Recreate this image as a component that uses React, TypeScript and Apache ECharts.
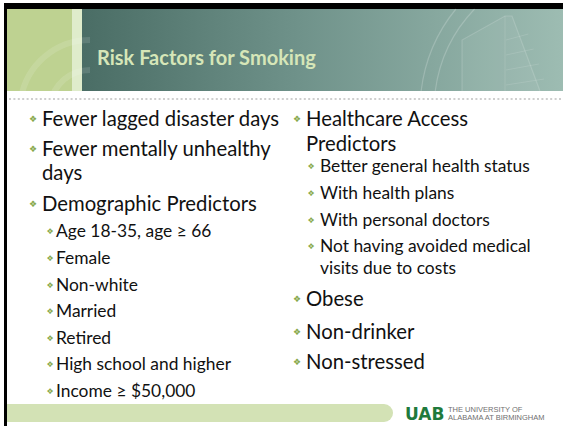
import React, { useEffect, useRef } from "react";
import * as echarts from "echarts";

const titleText = "Risk Factors for Smoking";
const leftLines = [
  "Fewer lagged disaster days",
  "Fewer mentally unhealthy",
  "days",
  "Demographic Predictors",
  "Age 18-35, age ≥ 66",
  "Female",
  "Non-white",
  "Married",
  "Retired",
  "High school and higher",
  "Income ≥ $50,000",
];
// 1 = main bullet, 0 = continuation of main, 2 = sub bullet, 3 = continuation of sub
const leftLevels = [1, 1, 0, 1, 2, 2, 2, 2, 2, 2, 2];
const rightLines = [
  "Healthcare Access",
  "Predictors",
  "Better general health status",
  "With health plans",
  "With personal doctors",
  "Not having avoided medical",
  "visits due to costs",
  "Obese",
  "Non-drinker",
  "Non-stressed",
];
const rightLevels = [1, 0, 2, 2, 2, 2, 3, 1, 1, 1];
const logoMark = "UAB";
const logoLines = ["THE UNIVERSITY OF", "ALABAMA AT BIRMINGHAM"];

// layout (row centres)
const leftRowY = [118, 148, 172, 203, 230, 257, 284, 310, 337, 363, 390];
const rightRowY = [118, 143, 165, 192, 219, 245, 267, 298, 331, 361];

const FONT = "Lato, 'Open Sans', sans-serif";
const BULLET_COLOR = "#86a84a";

function column(lines: string[], levels: number[], ys: number[], xs: any) {
  const els: any[] = [];
  lines.forEach((t, i) => {
    const lv = levels[i];
    const main = lv === 0 || lv === 1;
    const size = main ? 20.3 : 17.4;
    const tx = main ? xs.t1 : xs.t2;
    if (lv === 1 || lv === 2) {
      els.push({
        type: "text",
        x: lv === 1 ? xs.b1 : xs.b2,
        y: ys[i] + 1,
        style: {
          text: "❖",
          fill: BULLET_COLOR,
          font: `${lv === 1 ? 9 : 8}px 'DejaVu Sans'`,
          textAlign: "center",
          textVerticalAlign: "middle",
        },
      });
    }
    els.push({
      type: "text",
      x: tx,
      y: ys[i],
      style: {
        text: t,
        fill: "#111111",
        font: `${size}px ${FONT}`,
        textAlign: "left",
        textVerticalAlign: "middle",
      },
    });
  });
  return els;
}

export default function App() {
  const ref = useRef<HTMLDivElement>(null);
  useEffect(() => {
    document.body.style.margin = "0";
    const chart = echarts.init(ref.current!, null, { renderer: "svg" });
    const els: any[] = [];
    els.push({ type: "rect", shape: { x: 0, y: 0, width: 563, height: 426 }, style: { fill: "#ffffff" } });
    // black frame
    els.push({ type: "rect", shape: { x: 4, y: 3, width: 559, height: 6 }, style: { fill: "#000000" } });
    els.push({ type: "rect", shape: { x: 4, y: 3, width: 3, height: 423 }, style: { fill: "#000000" } });
    // header
    els.push({ type: "rect", shape: { x: 7, y: 9, width: 65, height: 82 }, style: { fill: "#bed291" } });
    els.push({ type: "rect", shape: { x: 72, y: 9, width: 10, height: 82 }, style: { fill: "#dfeccb" } });
    els.push({
      type: "rect",
      shape: { x: 82, y: 9, width: 481, height: 82 },
      style: {
        fill: new echarts.graphic.LinearGradient(0, 0, 1, 0, [
          { offset: 0, color: "#4a6d65" },
          { offset: 0.45, color: "#6f928a" },
          { offset: 1, color: "#9dbcb2" },
        ]),
      },
    });
    [40, 70].forEach((r) => {
      els.push({
        type: "arc",
        shape: { cx: 90, cy: 110, r: r, startAngle: Math.PI * 1.05, endAngle: Math.PI * 1.5 },
        style: { stroke: "rgba(255,255,255,0.12)", lineWidth: 6, fill: "none" },
      });
    });
    // seal watermark
    [160, 146].forEach((r) => {
      const a1 = Math.PI + Math.asin(19 / r);
      const a2 = Math.PI + Math.asin(Math.min(0.99, 101 / r));
      els.push({
        type: "arc",
        shape: { cx: 580, cy: 110, r: r, startAngle: a1, endAngle: a2, clockwise: true },
        style: { stroke: "rgba(255,255,255,0.2)", lineWidth: 1.2, fill: "none" },
      });
    });
    els.push({
      type: "polyline",
      shape: { points: [[462, 91], [462, 40], [505, 16], [512, 16], [540, 91]] },
      style: { stroke: "rgba(255,255,255,0.16)", lineWidth: 1.2, fill: "rgba(255,255,255,0.05)" },
    });
    els.push({
      type: "polyline",
      shape: { points: [[505, 16], [505, 91]] },
      style: { stroke: "rgba(255,255,255,0.12)", lineWidth: 1 },
    });
    [40, 55, 70, 85].forEach((yy) => {
      els.push({
        type: "line",
        shape: { x1: 506, y1: yy, x2: 520 + (yy - 16) * 0.35, y2: yy - 6 },
        style: { stroke: "rgba(255,255,255,0.12)", lineWidth: 1 },
      });
    });
    // title
    els.push({
      type: "text",
      x: 97,
      y: 57,
      style: {
        text: titleText,
        fill: "#d6e6b8",
        font: `bold 20px ${FONT}`,
        textAlign: "left",
        textVerticalAlign: "middle",
      },
    });
    // dotted separator
    els.push({
      type: "line",
      shape: { x1: 9, y1: 99, x2: 563, y2: 99 },
      style: { stroke: "#cfcfcf", lineWidth: 2.2, lineDash: [2, 2.4] },
    });
    // body
    els.push(...column(leftLines, leftLevels, leftRowY, { b1: 33, t1: 42, b2: 50, t2: 56 }));
    els.push(...column(rightLines, rightLevels, rightRowY, { b1: 297, t1: 306, b2: 311, t2: 320 }));
    // footer bar
    els.push({
      type: "rect",
      shape: { x: 7, y: 404, width: 386, height: 18, r: [0, 9, 9, 0] },
      style: { fill: "#d3e2b5" },
    });
    // logo
    els.push({
      type: "text",
      x: 405,
      y: 414,
      style: {
        text: logoMark,
        fill: "#1f7a3c",
        font: "900 17px 'DejaVu Sans'",
        textAlign: "left",
        textVerticalAlign: "middle",
      },
    });
    logoLines.forEach((t, i) => {
      els.push({
        type: "text",
        x: 448,
        y: 409 + i * 8,
        style: {
          text: t,
          fill: "#6f6f6f",
          font: "7.5px 'Liberation Sans'",
          textAlign: "left",
          textVerticalAlign: "middle",
        },
      });
    });
    chart.setOption({ animation: false, graphic: { elements: els } });
    return () => chart.dispose();
  }, []);
  return <div ref={ref} style={{ width: 563, height: 426 }} />;
}
